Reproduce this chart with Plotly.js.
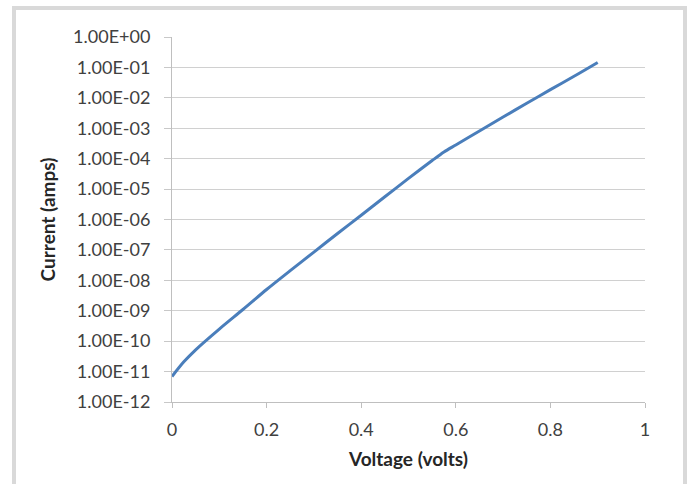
<!DOCTYPE html>
<html>
<head>
<meta charset="utf-8">
<script src="https://cdn.plot.ly/plotly-3.0.1.min.js"></script>
<style>
  html, body { margin: 0; padding: 0; background: #ffffff; overflow: hidden; }
  #frame { position: absolute; left: 12px; top: 6px; width: 667px; height: 500px;
           border: 4px solid #d9d9d9; box-sizing: content-box; }
  #chart { position: absolute; left: 0; top: 0; width: 689px; height: 484px; }
</style>
</head>
<body>
<div id="frame"></div>
<div id="chart"></div>
<script>
// Voltage (volts)
const voltage = [0, 0.025, 0.05, 0.1, 0.15, 0.2, 0.25, 0.3, 0.35, 0.4, 0.45, 0.5, 0.55, 0.575, 0.6, 0.65, 0.7, 0.75, 0.8, 0.85, 0.9];
// Current (amps)
const current = [6.9e-12, 2.09e-11, 5.2e-11, 2.5e-10, 1.1e-9, 5.0e-9, 2.09e-8, 8.5e-8, 3.47e-7, 1.38e-6, 5.6e-6, 2.24e-5, 8.7e-5, 1.66e-4, 2.82e-4, 8.1e-4, 2.34e-3, 6.6e-3, 1.86e-2, 5.1e-2, 1.45e-1];
// Y tick values and labels
const yTickVals = [1e-12, 1e-11, 1e-10, 1e-9, 1e-8, 1e-7, 1e-6, 1e-5, 1e-4, 1e-3, 1e-2, 1e-1, 1];
const yTickText = ["1.00E-12", "1.00E-11", "1.00E-10", "1.00E-09", "1.00E-08", "1.00E-07", "1.00E-06", "1.00E-05", "1.00E-04", "1.00E-03", "1.00E-02", "1.00E-01", "1.00E+00"];
// X tick values and labels
const xTickVals = [0, 0.2, 0.4, 0.6, 0.8, 1];
const xTickText = ["0", "0.2", "0.4", "0.6", "0.8", "1"];

const FONT = 'Lato, "Open Sans", sans-serif';

const trace = {
  x: voltage,
  y: current,
  type: 'scatter',
  mode: 'lines',
  line: { color: '#4a7ebb', width: 3, shape: 'spline', smoothing: 0.8 },
  hoverinfo: 'skip'
};

const layout = {
  width: 689,
  height: 484,
  margin: { l: 172, r: 44, t: 37, b: 82 },
  paper_bgcolor: 'rgba(0,0,0,0)',
  plot_bgcolor: 'rgba(0,0,0,0)',
  showlegend: false,
  font: { family: FONT, size: 18, color: '#404040' },
  xaxis: {
    range: [0, 1],
    tickvals: xTickVals,
    ticktext: xTickText,
    showgrid: false,
    zeroline: false,
    showline: true,
    linecolor: '#bfbfbf',
    linewidth: 1,
    ticks: 'outside',
    ticklen: 5,
    tickcolor: '#bfbfbf',
    tickfont: { family: FONT, size: 18, color: '#404040' },
    ticklabelstandoff: 6,
    title: { text: 'Voltage (volts)', font: { family: FONT, size: 19, color: '#262626', weight: 'bold' }, standoff: 14 }
  },
  yaxis: {
    type: 'log',
    range: [-12, 0],
    tickvals: yTickVals,
    ticktext: yTickText,
    showgrid: true,
    gridcolor: '#d0d0d0',
    gridwidth: 1,
    zeroline: false,
    showline: true,
    linecolor: '#bfbfbf',
    linewidth: 1,
    ticks: 'outside',
    ticklen: 7,
    tickcolor: '#c8c8c8',
    tickfont: { family: FONT, size: 18, color: '#404040' },
    ticklabelstandoff: 10,
    title: { text: 'Current (amps)', font: { family: FONT, size: 19, color: '#262626', weight: 'bold' }, standoff: 12 }
  }
};

Plotly.newPlot('chart', [trace], layout, { displayModeBar: false, staticPlot: true });
</script>
</body>
</html>
